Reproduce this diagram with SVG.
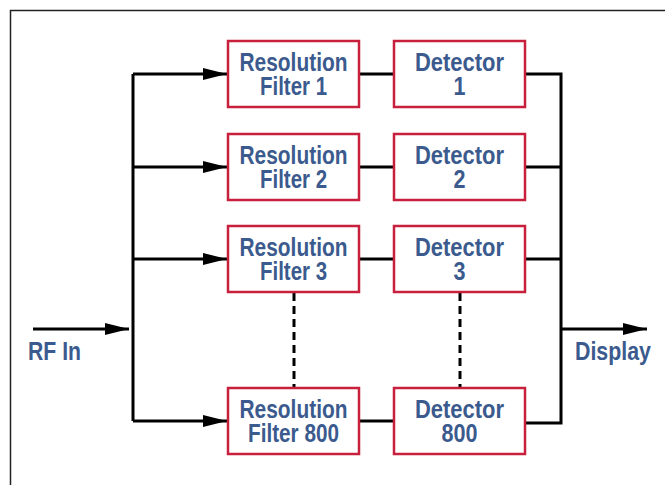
<svg xmlns="http://www.w3.org/2000/svg" width="665" height="485" viewBox="0 0 665 485">
<style>
.box{fill:#fff;stroke:#c8203c;stroke-width:2.5}
.t{font-family:"Liberation Sans",Arial,sans-serif;font-weight:bold;font-size:26px;fill:#3b5a8e;text-anchor:middle}
.w{fill:none;stroke:#000;stroke-width:3}
.d{fill:none;stroke:#000;stroke-width:3;stroke-dasharray:8,5}
</style>
<defs>
<marker id="ah2" markerWidth="24" markerHeight="12" refX="24" refY="6" orient="auto" markerUnits="userSpaceOnUse" viewBox="0 0 24 12">
<path d="M0,0 L24,6 L0,12 Z" fill="#000"/>
</marker>
</defs>
<rect x="0" y="0" width="665" height="485" fill="#fff"/>
<path d="M10.5,485 V10.5 H665" fill="none" stroke="#222" stroke-width="1.5"/>
<g id="connectors">
<path class="w" d="M133,421 V74"/>
<path class="w" d="M133,74 H227" marker-end="url(#ah2)"/>
<path class="w" d="M133,167 H227" marker-end="url(#ah2)"/>
<path class="w" d="M133,259 H227" marker-end="url(#ah2)"/>
<path class="w" d="M133,421 H227" marker-end="url(#ah2)"/>
<path class="w" d="M33,329 H129" marker-end="url(#ah2)"/>
<path class="w" d="M360,74 H394"/>
<path class="w" d="M360,167 H394"/>
<path class="w" d="M360,259 H394"/>
<path class="w" d="M360,421 H394"/>
<path class="w" d="M526,74 H561 V423 H526"/>
<path class="w" d="M526,167 H561"/>
<path class="w" d="M526,259 H561"/>
<path class="w" d="M561,329 H647" marker-end="url(#ah2)"/>
<path class="d" d="M294,293 V388"/>
<path class="d" d="M460,293 V388"/>
</g>
<g id="filter1"><rect class="box" x="228" y="41" width="131" height="66"/><text class="t" x="293.5" y="71" textLength="108" lengthAdjust="spacingAndGlyphs">Resolution</text><text class="t" x="293.5" y="95" textLength="67" lengthAdjust="spacingAndGlyphs">Filter 1</text></g>
<g id="detector1"><rect class="box" x="394" y="41" width="131" height="66"/><text class="t" x="459.5" y="71" textLength="89" lengthAdjust="spacingAndGlyphs">Detector</text><text class="t" x="459.5" y="95" textLength="12" lengthAdjust="spacingAndGlyphs">1</text></g>
<g id="filter2"><rect class="box" x="228" y="134" width="131" height="66"/><text class="t" x="293.5" y="164" textLength="108" lengthAdjust="spacingAndGlyphs">Resolution</text><text class="t" x="293.5" y="188" textLength="67" lengthAdjust="spacingAndGlyphs">Filter 2</text></g>
<g id="detector2"><rect class="box" x="394" y="134" width="131" height="66"/><text class="t" x="459.5" y="164" textLength="89" lengthAdjust="spacingAndGlyphs">Detector</text><text class="t" x="459.5" y="188" textLength="12" lengthAdjust="spacingAndGlyphs">2</text></g>
<g id="filter3"><rect class="box" x="228" y="226" width="131" height="66"/><text class="t" x="293.5" y="256" textLength="108" lengthAdjust="spacingAndGlyphs">Resolution</text><text class="t" x="293.5" y="280" textLength="67" lengthAdjust="spacingAndGlyphs">Filter 3</text></g>
<g id="detector3"><rect class="box" x="394" y="226" width="131" height="66"/><text class="t" x="459.5" y="256" textLength="89" lengthAdjust="spacingAndGlyphs">Detector</text><text class="t" x="459.5" y="280" textLength="12" lengthAdjust="spacingAndGlyphs">3</text></g>
<g id="filter800"><rect class="box" x="228" y="388" width="131" height="66"/><text class="t" x="293.5" y="418" textLength="108" lengthAdjust="spacingAndGlyphs">Resolution</text><text class="t" x="293.5" y="442" textLength="91" lengthAdjust="spacingAndGlyphs">Filter 800</text></g>
<g id="detector800"><rect class="box" x="394" y="388" width="131" height="66"/><text class="t" x="459.5" y="418" textLength="89" lengthAdjust="spacingAndGlyphs">Detector</text><text class="t" x="459.5" y="442" textLength="36" lengthAdjust="spacingAndGlyphs">800</text></g>
<g id="rfin"><text class="t" x="54.5" y="360" textLength="53" lengthAdjust="spacingAndGlyphs">RF In</text></g>
<g id="display"><text class="t" x="613" y="360" textLength="76" lengthAdjust="spacingAndGlyphs">Display</text></g>
</svg>
